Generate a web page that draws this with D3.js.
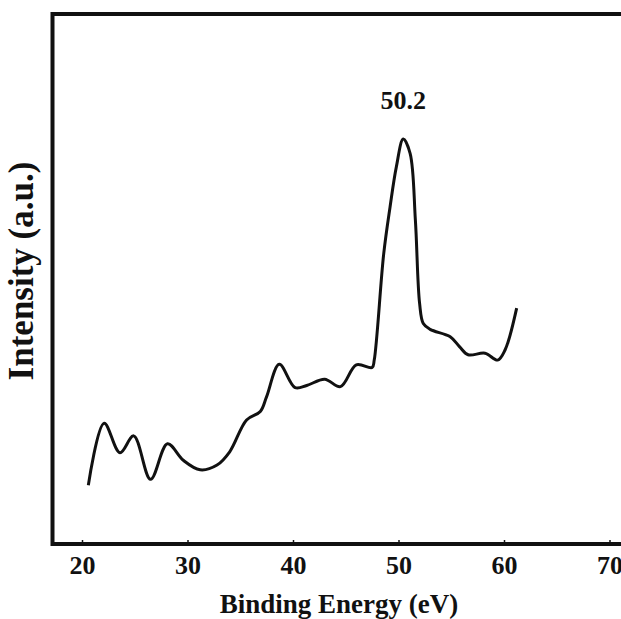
<!DOCTYPE html>
<html>
<head>
<meta charset="utf-8">
<script src="https://cdn.jsdelivr.net/npm/d3@7"></script>
<style>
  body { margin: 0; background: #fff; }
  svg { display: block; }
  text { font-family: "Liberation Serif", "Times New Roman", serif; font-weight: bold; fill: #111; }
</style>
</head>
<body>
<svg id="chart" width="621" height="619"></svg>
<script>
// binding energy (eV) and intensity (a.u.)
var energy = [20.6, 22.1, 23.6, 24.9, 26.5, 28.1, 29.6, 31.2, 32.8, 34.0, 35.6, 36.9, 37.5, 38.7,
              40.2, 41.3, 43.0, 44.5, 46.0, 47.5, 47.7, 48.6, 49.2, 49.8, 50.45, 51.1, 51.6, 52.0,
              52.35, 53.0, 54.9, 55.8, 56.6, 58.2, 59.4, 60.1, 61.2];
var intensity = [11.1, 22.8, 17.2, 20.4, 12.2, 18.9, 15.8, 14.0, 14.9, 17.4, 23.4, 25.0, 27.8, 33.9,
                 29.5, 29.9, 31.1, 29.7, 33.8, 33.3, 34.7, 54.8, 63.6, 71.2, 76.4, 73.7, 61.1, 45.4,
                 41.6, 40.5, 39.1, 37.2, 35.7, 36.0, 34.7, 36.6, 44.5];
var xTicks = [20, 30, 40, 50, 60, 70];
var peakLabel = "50.2";
var peakEnergy = 50.45;

var svg = d3.select("#chart");

// plot frame edges (window.top is taken, so prefix them)
var fLeft = 52.5, fTop = 14, fBottom = 544, fRight = 623;

var x = d3.scaleLinear().domain([20, 70]).range([82, 609.5]);
var y = d3.scaleLinear().domain([0, 100]).range([fBottom, fTop]);

var data = energy.map(function(e, i) { return {e: e, v: intensity[i]}; });

// spectrum
var line = d3.line()
    .x(function(d) { return x(d.e); })
    .y(function(d) { return y(d.v); })
    .curve(d3.curveCatmullRom.alpha(0.5));

svg.append("path")
    .datum(data)
    .attr("d", line)
    .attr("fill", "none")
    .attr("stroke", "#111")
    .attr("stroke-width", 3)
    .attr("stroke-linejoin", "round");

// x axis, ticks pointing inward
var xAxis = svg.append("g")
    .attr("transform", "translate(0," + fBottom + ")")
    .call(d3.axisBottom(x).tickValues(xTicks).tickSizeInner(-4).tickSizeOuter(0).tickPadding(12));
xAxis.select(".domain").remove();
xAxis.selectAll("line").attr("stroke", "#111").attr("stroke-width", 1.5);
xAxis.selectAll("text")
    .attr("font-size", 26)
    .attr("font-family", "Liberation Serif")
    .attr("font-weight", "bold")
    .attr("fill", "#111");

// frame
svg.append("rect")
    .attr("x", fLeft).attr("y", fTop)
    .attr("width", fRight - fLeft).attr("height", fBottom - fTop)
    .attr("fill", "none")
    .attr("stroke", "#111")
    .attr("stroke-width", 4);

// peak annotation
svg.append("text")
    .attr("x", x(peakEnergy))
    .attr("y", 109)
    .attr("text-anchor", "middle")
    .attr("font-size", 26)
    .text(peakLabel);

// axis titles
svg.append("text")
    .attr("x", 339)
    .attr("y", 613)
    .attr("text-anchor", "middle")
    .attr("font-size", 27)
    .text("Binding Energy (eV)");

svg.append("text")
    .attr("transform", "translate(33,271) rotate(-90)")
    .attr("text-anchor", "middle")
    .attr("font-size", 35)
    .text("Intensity (a.u.)");
</script>
</body>
</html>
